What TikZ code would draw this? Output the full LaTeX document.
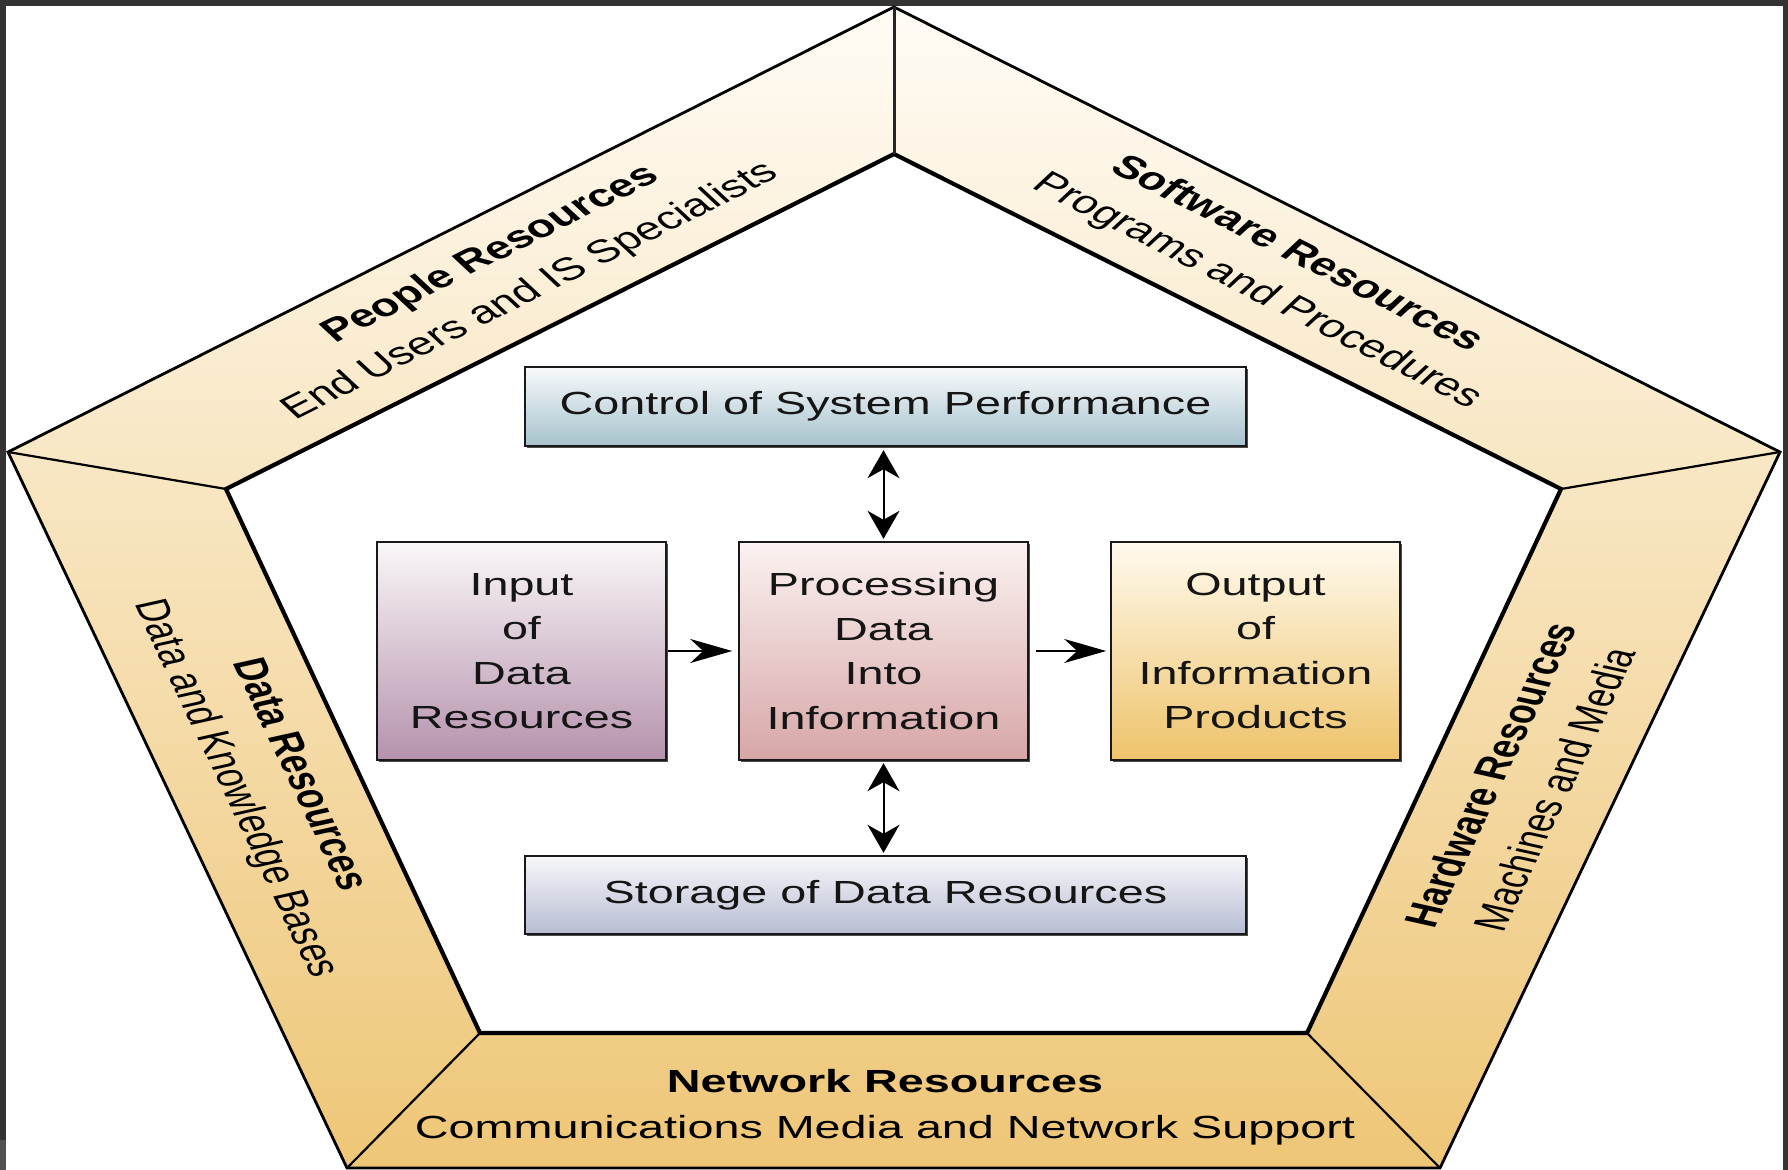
\documentclass[tikz,border=0pt]{standalone}
\usepackage{fontspec}
\setmainfont{Liberation Sans}
\usetikzlibrary{arrows.meta,shadows}
\definecolor{frameC}{HTML}{333333}
\definecolor{frameL}{HTML}{505050}
\definecolor{bandTop}{HTML}{FFFCF6}
\definecolor{bandBot}{HTML}{EEC677}
\definecolor{ctrlTop}{HTML}{F8FAFB}
\definecolor{ctrlBot}{HTML}{A6C2CD}
\definecolor{inTop}{HTML}{FAF7F9}
\definecolor{inBot}{HTML}{B592AC}
\definecolor{procTop}{HTML}{FBF2F1}
\definecolor{procBot}{HTML}{D7A6A7}
\definecolor{outTop}{HTML}{FFFAEE}
\definecolor{outBot}{HTML}{EEC36A}
\definecolor{storTop}{HTML}{F7F7FA}
\definecolor{storBot}{HTML}{B7BDD2}
\definecolor{txt}{HTML}{151515}
\begin{document}
\begin{tikzpicture}[x=0.5pt,y=-0.5pt,
  bandtext/.style={xscale=1.46, align=center, inner sep=0pt, text=black,
     font=\fontsize{16pt}{23pt}\selectfont},
  box/.style={xscale=1.46, draw=black!90, line width=1.2pt, align=center, text=txt,
     inner sep=0pt, font=\fontsize{16pt}{22.25pt}\selectfont,
     drop shadow={shadow xshift=0.9pt, shadow yshift=-1.1pt, fill=black!70, opacity=1}},
  dblarrow/.style={{Stealth[length=14pt,width=16pt,inset=4.5pt]}-{Stealth[length=14pt,width=16pt,inset=4.5pt]}, line width=1pt, draw=black},
  harrow/.style={-{Stealth[length=21pt,width=12pt,inset=6.5pt]}, line width=1pt, draw=black},
  outerline/.style={line width=1.4pt, line join=miter},
  innerline/.style={line width=2.1pt, line join=miter},
  divline/.style={line width=1.1pt}
]
\useasboundingbox (0,0) rectangle (1788,1170);
% frame
\fill[frameC] (0,0) rectangle (1788,1170);
\fill[frameL] (0,1140) rectangle (6,1170);
\fill[white] (6,6) rectangle (1783,1170);

% pentagon vertices
\coordinate (A) at (894,7);
\coordinate (B) at (1780,452);
\coordinate (C) at (1440,1168);
\coordinate (D) at (347,1168);
\coordinate (E) at (8,452);
\coordinate (a) at (894,154);
\coordinate (b) at (1561,489);
\coordinate (c) at (1307,1033);
\coordinate (d) at (480,1033);
\coordinate (e) at (226,489);

\shade[top color=bandTop, bottom color=bandBot] (A)--(B)--(C)--(D)--(E)--cycle;
\fill[white] (a)--(b)--(c)--(d)--(e)--cycle;
\draw[outerline] (A)--(B)--(C)--(D)--(E)--cycle;
\draw[innerline] (a)--(b)--(c)--(d)--(e)--cycle;
\draw[line width=1.5pt, black!85] (A)--(a);
\draw[divline] (B)--(b);
\draw[divline] (C)--(c);
\draw[divline] (D)--(d);
\draw[divline] (E)--(e);

% band labels
\node[bandtext, rotate=36.3] (people) at (511,273) {\textbf{People Resources}\\End Users and IS Specialists};
\node[bandtext, rotate=-36.3] (software) at (1277,273) {\textbf{Software Resources}\\Programs and Procedures};
\node[bandtext, rotate=-72] (datares) at (266,782) {\textbf{Data Resources}\\Data and Knowledge Bases};
\node[bandtext, rotate=72] (hardware) at (1522,782) {\textbf{Hardware Resources}\\Machines and Media};
\node[bandtext] (network) at (885,1107) {\textbf{Network Resources}\\Communications Media and Network Support};

% boxes
\node[box, top color=ctrlTop, bottom color=ctrlBot, minimum width=246.9pt, minimum height=39.5pt] (ctrl) at (885.5,406.5) {Control of System Performance};
\node[box, top color=inTop, bottom color=inBot, minimum width=99pt, minimum height=109pt] (inp) at (521.5,651) {Input\\of\\Data\\Resources};
\node[box, top color=procTop, bottom color=procBot, minimum width=99pt, minimum height=109pt] (proc) at (883.5,651) {Processing\\Data\\Into\\Information};
\node[box, top color=outTop, bottom color=outBot, minimum width=99pt, minimum height=109pt] (outp) at (1255.5,651) {Output\\of\\Information\\Products};
\node[box, top color=storTop, bottom color=storBot, minimum width=246.9pt, minimum height=39pt] (stor) at (885.5,895) {Storage of Data Resources};

% connectors
\draw[dblarrow] ([yshift=1pt]proc.north) -- ([yshift=-1.5pt]proc.north |- ctrl.south);
\draw[dblarrow] ([yshift=-1pt]proc.south) -- ([yshift=1pt]proc.south |- stor.north);
\draw[harrow] (inp.east) -- ([xshift=-2.5pt]proc.west);
\draw[harrow] ([xshift=3pt]proc.east) -- ([xshift=-1.5pt]outp.west);
\end{tikzpicture}
\end{document}
